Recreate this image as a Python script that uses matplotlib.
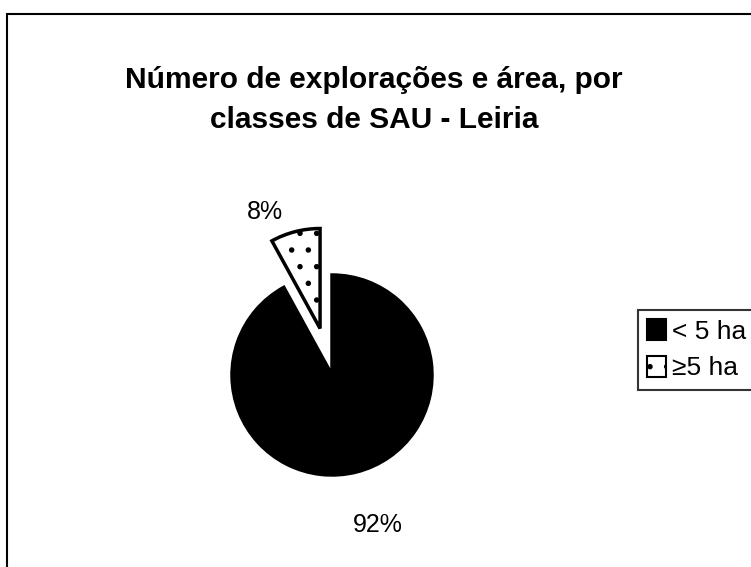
import matplotlib.pyplot as plt
from matplotlib.patches import Rectangle, Patch

plt.rcParams['font.family'] = ['Liberation Sans', 'DejaVu Sans']
plt.rcParams['hatch.linewidth'] = 1.5

# dados
classes = ['< 5 ha', '\u22655 ha']
valores = [92, 8]
cores = ['black', 'white']
tramas = [None, '.']
explode = [0.0, 0.48]
titulo = 'Número de explorações e área, por\nclasses de SAU - Leiria'

W, H = 751, 567
fig = plt.figure(figsize=(W / 100, H / 100), dpi=100)

# moldura exterior (cortada à direita e em baixo)
fig.patches.append(Rectangle((7 / W, -0.1), 1.2, 1.1 - 14 / H, transform=fig.transFigure,
                             fill=False, edgecolor='black', linewidth=1.5))

fig.text(374 / W, 1 - 100 / H, titulo, ha='center', va='center', fontsize=21.5,
         fontweight='bold', linespacing=1.58)

# eixo do grafico: centro (332, 375) px, raio 100 px
cx, cy, R = 332, 375, 100
ax = fig.add_axes([(cx - 1.5 * R) / W, (H - cy - 1.5 * R) / H, 3 * R / W, 3 * R / H])
wedges, autotexts = ax.pie(valores, colors=cores, explode=explode, startangle=90,
                           counterclock=False, radius=1,
                           wedgeprops=dict(edgecolor='black', linewidth=2.5))
for w, t in zip(wedges, tramas):
    if t:
        w.set_hatch(t)
ax.set_xlim(-1.5, 1.5)
ax.set_ylim(-1.5, 1.5)
ax.set_aspect('equal')
ax.axis('off')

# rotulos de percentagem
pos_rotulos = [(0.46, -1.50), (-0.67, 1.63)]
for v, (x, y) in zip(valores, pos_rotulos):
    ax.text(x, y, f'{v}%', ha='center', va='center', fontsize=18)

handles = [Patch(facecolor=c, edgecolor='black', hatch=t, linewidth=1.5)
           for c, t in zip(cores, tramas)]
leg = fig.legend(handles, classes, loc='upper left', bbox_to_anchor=(638 / W, 1 - 310 / H),
                 fontsize=19, frameon=True, fancybox=False, handlelength=0.72,
                 handleheight=0.85, handletextpad=0.2, borderpad=0.35, labelspacing=0.45,
                 borderaxespad=0)
leg.get_frame().set_edgecolor('black')
leg.get_frame().set_linewidth(1.5)

fig.savefig('out.png', dpi=100)
